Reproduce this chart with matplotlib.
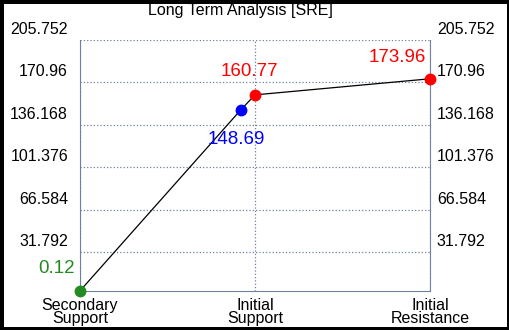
import matplotlib
matplotlib.use("Agg")
import matplotlib.pyplot as plt
import matplotlib.transforms as mtransforms

plt.rcParams['font.family'] = ['Liberation Sans', 'DejaVu Sans']

# data
categories = ['Secondary\nSupport', 'Initial\nSupport', 'Initial\nResistance']
x_pos = [0, 0.92, 1, 2]
values = [0.12, 148.69, 160.77, 173.96]
colors = ['#228b22', '#0000ff', '#ff0000', '#ff0000']
yticks = [31.792, 66.584, 101.376, 136.168, 170.96, 205.752]
y_max = 205.752

fig = plt.figure(figsize=(5.1, 3.3), dpi=100)
fig.patch.set_facecolor('white')
fig.patch.set_edgecolor('black')
fig.patch.set_linewidth(5)
ax = fig.add_axes([80 / 510, 39 / 330, 350 / 510, 251 / 330])

ax.plot(x_pos, values, color='black', lw=0.9, zorder=2, clip_on=False)
for x, v, c in zip(x_pos, values, colors):
    ax.plot(x, v, 'o', color=c, ms=7.5, zorder=3, clip_on=False)

# value labels
ax.annotate('0.12', (x_pos[0], values[0]), xytext=(-23, 22), textcoords='offset pixels',
            color=colors[0], fontsize=13.5, ha='center', va='center')
ax.annotate('148.69', (x_pos[1], values[1]), xytext=(-5, -30), textcoords='offset pixels',
            color=colors[1], fontsize=13.5, ha='center', va='center')
ax.annotate('160.77', (x_pos[2], values[2]), xytext=(-6, 23), textcoords='offset pixels',
            color=colors[2], fontsize=13.5, ha='center', va='center')
ax.annotate('173.96', (x_pos[3], values[3]), xytext=(-33, 21), textcoords='offset pixels',
            color=colors[3], fontsize=13.5, ha='center', va='center')

ax.set_xlim(0, 2)
ax.set_ylim(0, y_max)
ax.set_xticks([0, 1, 2])
ax.set_xticklabels(categories, fontsize=11.5, linespacing=0.85)
ax.set_yticks(yticks)
ax.set_yticklabels([f'{t:g}' for t in yticks], fontsize=11.5)
ax.tick_params(axis='y', length=0, pad=8.6, labelright=True, right=False)
ax.tick_params(axis='x', length=0, pad=5)

# labels sit above their grid lines
up = mtransforms.ScaledTranslation(0, 12 / 100, fig.dpi_scale_trans)
up_left = mtransforms.ScaledTranslation(-5 / 100, 12 / 100, fig.dpi_scale_trans)
for t in ax.yaxis.get_major_ticks():
    t.label1.set_transform(t.label1.get_transform() + up)
    t.label2.set_transform(t.label2.get_transform() + up_left)

ax.grid(True, color='#7080a0', linestyle=':', lw=0.9)
for side in ['left', 'right', 'bottom']:
    ax.spines[side].set_color('#7080a0')
ax.spines['top'].set_visible(False)

fig.text(240 / 510, 1 - 10 / 330, 'Long Term Analysis [SRE]', fontsize=11.5,
         ha='center', va='center')

fig.savefig('out.png', dpi=100, facecolor=fig.get_facecolor(), edgecolor=fig.get_edgecolor())
